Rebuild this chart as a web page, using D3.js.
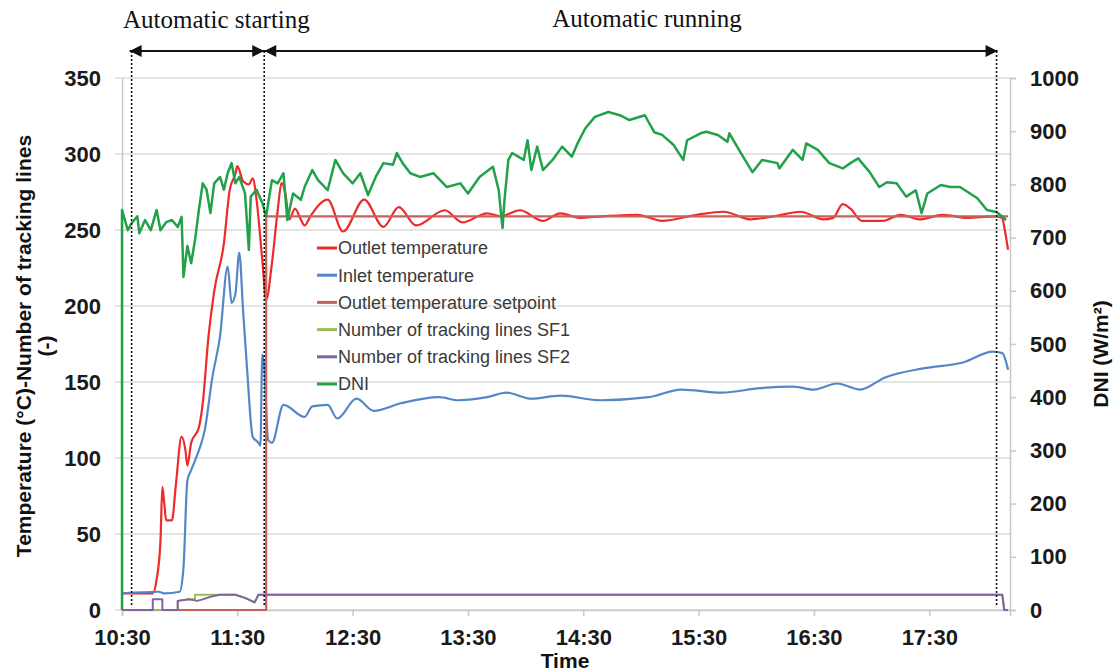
<!DOCTYPE html>
<html>
<head>
<meta charset="utf-8">
<script src="https://cdn.jsdelivr.net/npm/d3@7"></script>
<style>
  body { margin: 0; background: #fff; }
  svg text { font-family: Arial, "Liberation Sans", sans-serif; }
  .axis .domain { stroke: #c8c8c8; stroke-width: 1.5; }
  .axis .tick line { stroke: #c8c8c8; stroke-width: 1.5; }
  .axis .tick text { font-size: 22px; font-weight: bold; fill: #1a1a1a; }
  .grid line { stroke: #dcdcdc; stroke-width: 1.5; }
  .legend text { font-size: 18px; fill: #3a3a3a; }
  .note { font-family: "Liberation Serif", "Times New Roman", serif !important; font-size: 25px; fill: #111; }
</style>
</head>
<body>
<svg width="1116" height="671"></svg>
<script>
var margin = { top: 78, left: 122, bottom: 61, right: 106 };

var svg = d3.select('svg');
var svgWidth = 1116;
var svgHeight = 671;

var parseTime = d3.timeParse('%H:%M');

// ---- data ----
var timeTicks = ['10:30', '11:30', '12:30', '13:30', '14:30', '15:30', '16:30', '17:30'];
var tempTicks = [0, 50, 100, 150, 200, 250, 300, 350];
var dniTicks = [0, 100, 200, 300, 400, 500, 600, 700, 800, 900, 1000];

var outletTemp = [
  ['10:30', 11], ['10:46', 11], ['10:48', 20], ['10:50', 45], ['10:51', 81], ['10:52', 70],
  ['10:53', 59], ['10:56', 59], ['10:58', 82], ['11:01', 114], ['11:03', 105], ['11:04', 95],
  ['11:06', 110], ['11:10', 120], ['11:12', 136], ['11:15', 180], ['11:18', 210], ['11:23', 241],
  ['11:26', 276], ['11:29', 287], ['11:30', 292], ['11:33', 282], ['11:36', 280], ['11:38', 284],
  ['11:40', 270], ['11:43', 230], ['11:45', 204], ['11:48', 228], ['11:51', 263], ['11:53', 281],
  ['11:55', 274], ['11:57', 257], ['12:00', 264], ['12:03', 257], ['12:05', 253], ['12:08', 259],
  ['12:17', 270], ['12:25', 249], ['12:36', 270], ['12:46', 252], ['12:54', 265], ['13:03', 253],
  ['13:18', 263], ['13:27', 255], ['13:40', 261], ['13:47', 259], ['13:57', 263], ['14:09', 256],
  ['14:18', 261], ['14:28', 258], ['14:40', 259], ['14:58', 260], ['15:11', 256], ['15:29', 260],
  ['15:43', 262], ['15:57', 257], ['16:09', 259], ['16:23', 262], ['16:35', 257], ['16:40', 258],
  ['16:45', 267], ['16:49', 264], ['16:55', 256], ['17:06', 256], ['17:15', 260], ['17:25', 257],
  ['17:37', 260], ['17:50', 258], ['18:03', 259], ['18:08', 258], ['18:09', 252], ['18:11', 237]
];

var inletTemp = [
  ['10:30', 11], ['10:49', 12], ['10:52', 11], ['11:00', 12], ['11:02', 28], ['11:04', 85],
  ['11:06', 92], ['11:10', 105], ['11:13', 118], ['11:17', 153], ['11:21', 180], ['11:25', 226],
  ['11:27', 202], ['11:29', 208], ['11:31', 235], ['11:33', 197], ['11:35', 160], ['11:38', 114],
  ['11:41', 110], ['11:42', 108], ['11:43', 168], ['11:44', 160], ['11:46', 112], ['11:48', 110],
  ['11:54', 135], ['12:05', 127], ['12:09', 134], ['12:17', 135], ['12:22', 126], ['12:32', 139],
  ['12:41', 131], ['12:55', 136], ['13:15', 140], ['13:25', 138], ['13:40', 140], ['13:50', 143],
  ['14:03', 139], ['14:18', 141], ['14:39', 138], ['15:04', 140], ['15:21', 145], ['15:42', 143],
  ['16:02', 146], ['16:19', 147], ['16:30', 145], ['16:42', 149], ['16:54', 145], ['17:07', 153],
  ['17:27', 159], ['17:48', 163], ['18:03', 170], ['18:08', 169], ['18:11', 158]
];

var outletSetpoint = [['10:30', 0], ['11:45', 0], ['11:45', 259], ['18:11', 259]];

var trackingSF1 = [
  ['10:30', 0], ['10:59', 0], ['10:59', 6], ['11:05', 7], ['11:08', 7], ['11:08', 10],
  ['11:29', 10], ['11:34', 8], ['11:39', 5], ['11:41', 10], ['18:08', 10], ['18:09', 0], ['18:11', 0]
];

var trackingSF2 = [
  ['10:30', 0], ['10:46', 0], ['10:46', 7], ['10:51', 7], ['10:51', 0], ['10:59', 0],
  ['10:59', 6], ['11:05', 7], ['11:09', 6], ['11:12', 7], ['11:17', 9], ['11:21', 10],
  ['11:29', 10], ['11:34', 8], ['11:39', 5], ['11:41', 10], ['18:08', 10], ['18:09', 0], ['18:11', 0]
];

var dni = [
  ['10:30', 0], ['10:30', 752], ['10:33', 714], ['10:35', 727], ['10:38', 740], ['10:39', 708],
  ['10:42', 733], ['10:45', 714], ['10:48', 752], ['10:50', 714], ['10:53', 729], ['10:56', 733],
  ['10:59', 720], ['11:01', 739], ['11:02', 626], ['11:04', 684], ['11:06', 652], ['11:08', 696],
  ['11:10', 752], ['11:12', 802], ['11:14', 790], ['11:16', 746], ['11:18', 802], ['11:21', 814],
  ['11:23', 790], ['11:25', 821], ['11:27', 840], ['11:29', 802], ['11:31', 814], ['11:34', 783],
  ['11:36', 677], ['11:37', 777], ['11:40', 790], ['11:43', 765], ['11:45', 740], ['11:48', 808],
  ['11:51', 802], ['11:54', 821], ['11:56', 733], ['11:59', 783], ['12:03', 771], ['12:05', 795],
  ['12:09', 827], ['12:12', 808], ['12:17', 789], ['12:21', 846], ['12:25', 821], ['12:30', 802],
  ['12:34', 821], ['12:38', 780], ['12:42', 814], ['12:46', 840], ['12:51', 837], ['12:53', 859],
  ['12:56', 840], ['13:00', 821], ['13:05', 814], ['13:12', 821], ['13:19', 795], ['13:26', 802],
  ['13:30', 783], ['13:36', 814], ['13:43', 833], ['13:46', 789], ['13:48', 718], ['13:49', 771],
  ['13:51', 846], ['13:53', 859], ['13:59', 846], ['14:01', 883], ['14:03', 827], ['14:06', 871],
  ['14:09', 827], ['14:14', 846], ['14:19', 871], ['14:24', 852], ['14:27', 877], ['14:31', 905],
  ['14:36', 927], ['14:43', 936], ['14:49', 930], ['14:54', 921], ['15:02', 930], ['15:07', 898],
  ['15:11', 893], ['15:17', 874], ['15:22', 846], ['15:24', 883], ['15:31', 896], ['15:34', 899],
  ['15:40', 893], ['15:45', 880], ['15:46', 896], ['15:51', 865], ['15:58', 823], ['16:03', 846],
  ['16:11', 840], ['16:12', 830], ['16:19', 865], ['16:24', 846], ['16:26', 877], ['16:32', 865],
  ['16:38', 840], ['16:45', 830], ['16:49', 840], ['16:53', 849], ['16:59', 823], ['17:04', 795],
  ['17:08', 804], ['17:13', 802], ['17:18', 777], ['17:23', 789], ['17:26', 746], ['17:29', 783],
  ['17:36', 799], ['17:41', 795], ['17:46', 795], ['17:55', 774], ['18:00', 752], ['18:05', 748],
  ['18:10', 733]
];

// phase markers along the top (times of the dotted lines)
var phaseTimes = ['10:35', '11:44', '18:05'];
var phaseLabels = ['Automatic starting', 'Automatic running'];

/////////////////////////////////////////////////////////////////////
//                        SCALES                                   //
/////////////////////////////////////////////////////////////////////
var xScale = d3.scaleTime()
    .domain([parseTime('10:30'), parseTime('18:12')])
    .range([margin.left, 1010]);

var yLeft = d3.scaleLinear()
    .domain([0, 350])
    .range([svgHeight - margin.bottom, margin.top]);

var yRight = d3.scaleLinear()
    .domain([0, 1000])
    .range([svgHeight - margin.bottom, margin.top]);

var x0 = xScale.range()[0], x1 = xScale.range()[1];

// horizontal grid lines
svg.append('g')
    .attr('class', 'grid')
    .selectAll('line')
    .data(tempTicks)
    .enter()
    .append('line')
    .attr('x1', x0 - 7)
    .attr('x2', x1)
    .attr('y1', function(d) { return yLeft(d); })
    .attr('y2', function(d) { return yLeft(d); });

/////////////////////////////////////////////////////////////////////
//                        AXES                                     //
/////////////////////////////////////////////////////////////////////
var xAxis = d3.axisBottom(xScale)
    .tickValues(timeTicks.map(parseTime))
    .tickFormat(d3.timeFormat('%H:%M'))
    .tickSize(6)
    .tickPadding(13);
svg.append('g')
    .attr('class', 'x axis')
    .attr('transform', 'translate(0,' + yLeft(0) + ')')
    .call(xAxis)
    .call(g => g.selectAll('.tick text').attr('dy', '0.71em'));

var yAxisLeft = d3.axisLeft(yLeft)
    .tickValues(tempTicks)
    .tickSize(0)
    .tickPadding(21);
svg.append('g')
    .attr('class', 'y axis')
    .attr('transform', 'translate(' + x0 + ',0)')
    .call(yAxisLeft);

var yAxisRight = d3.axisRight(yRight)
    .tickValues(dniTicks)
    .tickFormat(d3.format('d'))
    .tickSize(6)
    .tickPadding(14);
svg.append('g')
    .attr('class', 'y axis')
    .attr('transform', 'translate(' + x1 + ',0)')
    .call(yAxisRight);

// axis titles
svg.append('text')
    .attr('transform', 'translate(31,346) rotate(-90)')
    .attr('text-anchor', 'middle')
    .style('font-size', '21px').style('font-weight', 'bold').style('fill', '#111')
    .text('Temperature (°C)-Number of tracking lines');
svg.append('text')
    .attr('transform', 'translate(53,346) rotate(-90)')
    .attr('text-anchor', 'middle')
    .style('font-size', '21px').style('font-weight', 'bold').style('fill', '#111')
    .text('(-)');
svg.append('text')
    .attr('transform', 'translate(1108,354) rotate(-90)')
    .attr('text-anchor', 'middle')
    .style('font-size', '21px').style('font-weight', 'bold').style('fill', '#111')
    .text('DNI (W/m²)');
svg.append('text')
    .attr('x', 565)
    .attr('y', 668)
    .attr('text-anchor', 'middle')
    .style('font-size', '21px').style('font-weight', 'bold').style('fill', '#111')
    .text('Time');

/////////////////////////////////////////////////////////////////////
//                        SERIES                                   //
/////////////////////////////////////////////////////////////////////
var series = [
  { name: 'Outlet temperature', data: outletTemp, color: '#ee2a2a', y: yLeft, curve: d3.curveMonotoneX, w: 2.2 },
  { name: 'Inlet temperature', data: inletTemp, color: '#5587c8', y: yLeft, curve: d3.curveMonotoneX, w: 2.2 },
  { name: 'Outlet temperature setpoint', data: outletSetpoint, color: '#c9605c', y: yLeft, curve: d3.curveLinear, w: 2.2 },
  { name: 'Number of tracking lines SF1', data: trackingSF1, color: '#9bbb59', y: yLeft, curve: d3.curveLinear, w: 2 },
  { name: 'Number of tracking lines SF2', data: trackingSF2, color: '#8064a2', y: yLeft, curve: d3.curveLinear, w: 2 },
  { name: 'DNI', data: dni, color: '#21a24a', y: yRight, curve: d3.curveLinear, w: 2.5 }
];

series.forEach(function(s) {
  var line = d3.line()
      .x(function(d) { return xScale(parseTime(d[0])); })
      .y(function(d) { return s.y(d[1]); })
      .curve(s.curve);
  svg.append('path')
      .datum(s.data)
      .attr('fill', 'none')
      .attr('stroke', s.color)
      .attr('stroke-width', s.w)
      .attr('stroke-linejoin', 'round')
      .attr('d', line);
});

/////////////////////////////////////////////////////////////////////
//                        LEGEND                                   //
/////////////////////////////////////////////////////////////////////
var legend = svg.append('g')
    .attr('class', 'legend')
    .attr('transform', 'translate(317,248)');
var rows = legend.selectAll('g')
    .data(series)
    .enter()
    .append('g')
    .attr('transform', function(d, i) { return 'translate(0,' + i * 27.2 + ')'; });
rows.append('line')
    .attr('x1', 0).attr('x2', 20)
    .attr('stroke', function(d) { return d.color; })
    .attr('stroke-width', 3);
rows.append('text')
    .attr('x', 21)
    .attr('dy', '0.35em')
    .text(function(d) { return d.name; });

/////////////////////////////////////////////////////////////////////
//                        PHASE ANNOTATION                         //
/////////////////////////////////////////////////////////////////////
var arrowY = 51;
var px = phaseTimes.map(function(t) { return xScale(parseTime(t)); });

svg.selectAll('.phase-line')
    .data(px)
    .enter()
    .append('line')
    .attr('class', 'phase-line')
    .attr('x1', function(d) { return d; })
    .attr('x2', function(d) { return d; })
    .attr('y1', arrowY)
    .attr('y2', 605)
    .attr('stroke', '#111')
    .attr('stroke-width', 1.6)
    .attr('stroke-dasharray', '2,2');

svg.append('line')
    .attr('x1', px[0] - 2).attr('x2', px[2] + 1)
    .attr('y1', arrowY).attr('y2', arrowY)
    .attr('stroke', '#111')
    .attr('stroke-width', 2);

// arrow heads: [tip x, direction]
var heads = [[px[0] - 2, -1], [px[1], 1], [px[1], -1], [px[2] + 1, 1]];
svg.selectAll('.head')
    .data(heads)
    .enter()
    .append('path')
    .attr('class', 'head')
    .attr('fill', '#111')
    .attr('d', function(d) {
      var tip = d[0], dir = d[1];
      return 'M' + tip + ',' + arrowY + 'L' + (tip - dir * 12) + ',' + (arrowY - 6) +
             'L' + (tip - dir * 12) + ',' + (arrowY + 6) + 'Z';
    });

svg.append('text')
    .attr('class', 'note')
    .attr('x', 123).attr('y', 28)
    .text(phaseLabels[0]);
svg.append('text')
    .attr('class', 'note')
    .attr('x', 647).attr('y', 27)
    .attr('text-anchor', 'middle')
    .text(phaseLabels[1]);
</script>
</body>
</html>
